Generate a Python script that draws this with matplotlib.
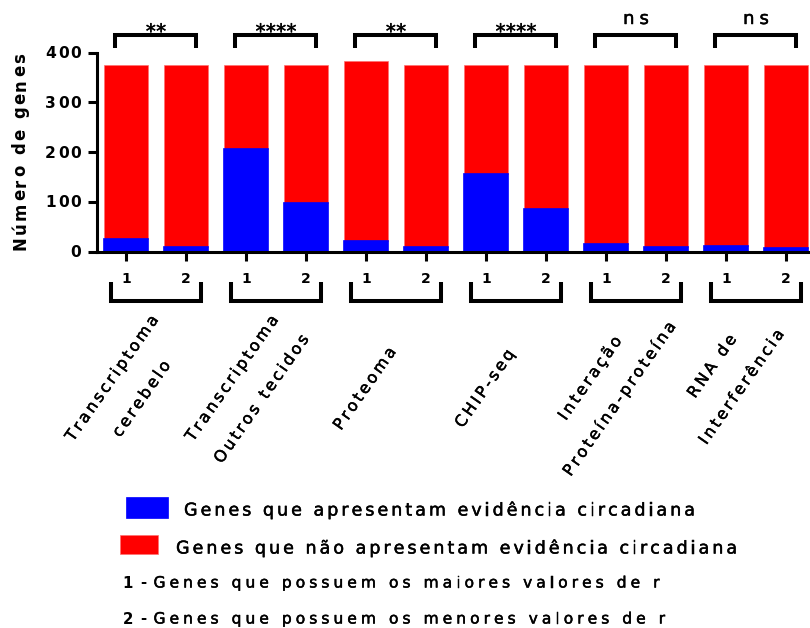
import numpy as np
import matplotlib
matplotlib.use("Agg")
import matplotlib.pyplot as plt
import matplotlib.patheffects as pe
from matplotlib.font_manager import FontProperties, findfont, get_font
from matplotlib.patches import Rectangle

# ---------------- data ----------------
categories = [
    ["Transcriptoma", "cerebelo"],
    ["Transcriptoma", "Outros tecidos"],
    ["Proteoma"],
    ["CHIP-seq"],
    ["Interação", "Proteína-proteína"],
    ["RNA de", "Interferência"],
]
subgroups = ["1", "2"]
circadian = [26, 10, 206, 97, 22, 10, 156, 86, 15, 10, 11, 7]
non_circadian = [348, 364, 168, 277, 361, 364, 218, 288, 359, 364, 363, 367]
significance = ["**", "****", "**", "****", "ns", "ns"]
yticks = [0, 100, 200, 300, 400]
ylabel = "Número de genes"
legend_items = ["Genes que apresentam evidência circadiana",
                "Genes que não apresentam evidência circadiana"]
notes = [("1 -", "Genes que possuem os maiores valores de r"),
         ("2 -", "Genes que possuem os menores valores de r")]

BLUE = "#0000FF"
RED = "#FF0000"
FAMILY = "DejaVu Sans"

# ---------------- figure ----------------
W, H, DPI = 810, 628, 100
fig = plt.figure(figsize=(W / DPI, H / DPI), dpi=DPI)
ax = fig.add_axes([97 / W, 1 - 251.5 / H, (W - 97) / W, (251.5 - 52.5) / H])

n_bars = len(circadian)
x = np.arange(n_bars)
ax.bar(x, non_circadian, bottom=circadian, width=0.74, color=RED,
       edgecolor="#FF7070", linewidth=0.5, zorder=2)
ax.bar(x, circadian, width=0.74, color=BLUE, edgecolor=BLUE,
       linewidth=1.2, zorder=3)

ax.set_xlim(-0.4833, 11.4)
ax.set_ylim(0, 400)
for side in ("top", "right"):
    ax.spines[side].set_visible(False)
for side in ("left", "bottom"):
    ax.spines[side].set_linewidth(2.2)
    ax.spines[side].set_zorder(4)
ax.spines["left"].set_bounds(0, 400)
ax.set_yticks(yticks)
ax.set_xticks(x)
ax.tick_params(axis="both", length=6.5, width=2.2, direction="out",
               labelleft=False, labelbottom=False)


def to_px(xd, yd):
    dx, dy = ax.transData.transform((xd, yd))
    return dx, H - dy


def fig_xy(px, py):
    return px / W, 1 - py / H


def advances(s, size_px, weight):
    font = get_font(findfont(FontProperties(family=FAMILY, weight=weight)))
    font.set_size(size_px * 72 / DPI, DPI)
    return [font.load_char(ord(c)).linearHoriAdvance / 65536 for c in s]


SOFT = [pe.withStroke(linewidth=0.35, foreground="black")]


def tracked(s, px, py, size_px, track=0.0, span=None, angle=0.0,
            ha="left", weight="normal", color="black"):
    """Draw letter-spaced text along a baseline; (px, py) in pixels from top-left."""
    adv = advances(s, size_px, weight)
    natural = sum(adv)
    if span is not None and len(s) > 1:
        track = (span - natural) / (len(s) - 1)
    total = natural + track * (len(s) - 1)
    a = np.radians(angle)
    d = np.array([np.cos(a), -np.sin(a)])
    shift = {"left": 0.0, "center": total / 2, "right": total}[ha]
    pos = np.array([px, py], dtype=float) - d * shift
    fp = FontProperties(family=FAMILY, weight=weight, size=size_px * 72 / DPI)
    effects = SOFT if weight == "normal" else None
    for ch, w in zip(s, adv):
        if not ch.isspace():
            fig.text(*fig_xy(*pos), ch, fontproperties=fp, color=color,
                     rotation=angle, rotation_mode="anchor",
                     ha="left", va="baseline", transform=fig.transFigure,
                     path_effects=effects)
        pos = pos + d * (w + track)
    return track


# y tick labels and axis title
for v in yticks:
    _, py = to_px(0, v)
    tracked(str(v), 81.5, py + 5.6, 15.5, track=2.0, ha="right", weight="bold")
tracked(ylabel, 25.5, 250, 16.5, span=197, angle=90, weight="bold")

# subgroup numbers under each bar
fp_num = FontProperties(family=FAMILY, weight="bold", size=14 * 72 / DPI)
for i in x:
    px, _ = to_px(i, 0)
    fig.text(*fig_xy(px, 283), subgroups[i % 2], fontproperties=fp_num,
             ha="center", va="baseline", transform=fig.transFigure)

LW = 2.9
n_groups = len(categories)
label_nudge = [(2, 0), (2, 0), (0, 0), (0, 0), (0, 0), (2, -12)]
for g in range(n_groups):
    gc = 2 * g + 0.5
    # significance bracket above each pair
    ax.plot([gc - 0.675, gc - 0.675, gc + 0.675, gc + 0.675],
            [410, 436, 436, 410], color="black", lw=LW,
            solid_joinstyle="miter", solid_capstyle="butt", clip_on=False)
    gpx, _ = to_px(gc, 0)
    label = significance[g]
    if label == "ns":
        tracked(label, gpx, 24, 18, track=5.0, ha="center")
    else:
        tracked(label, gpx, 38, 20, track=0.3, ha="center")
    # grouping bracket below the numbers
    ax.plot([gc - 0.75, gc - 0.75, gc + 0.75, gc + 0.75],
            [-62, -100, -100, -62], color="black", lw=LW,
            solid_joinstyle="miter", solid_capstyle="butt", clip_on=False)

    # rotated category name, one or two lines
    lines = categories[g]
    ang = 55.0
    a = np.radians(ang)
    nrm = np.array([np.sin(a), np.cos(a)])
    centre = np.array([gpx - 32 + label_nudge[g][0], 388.0 + label_nudge[g][1]])
    size = 16
    spacing = 36
    m = len(lines)
    for k, line in enumerate(lines):
        base = centre + nrm * ((k - (m - 1) / 2) * spacing + 0.36 * size)
        tracked(line, base[0], base[1], size, track=2.8, angle=ang, ha="center")

# legend
fig.add_artist(Rectangle(fig_xy(126, 518), 42 / W, 21 / H, transform=fig.transFigure,
                         facecolor=BLUE, edgecolor=BLUE, lw=0.5))
fig.add_artist(Rectangle(fig_xy(120, 553.5), 38 / W, 18.5 / H, transform=fig.transFigure,
                         facecolor=RED, edgecolor="#FF7070", lw=0.5))
t_leg = tracked(legend_items[0], 184, 515.5, 17.5, span=511)
tracked(legend_items[1], 176, 553.5, 17.5, track=t_leg)

t_note = None
for (num, txt), base in zip(notes, (587.5, 623.5)):
    tracked(num, 122.5, base, 15, track=1.0, weight="bold")
    if t_note is None:
        t_note = tracked(txt, 153.5, base, 15.5, span=506)
    else:
        tracked(txt, 153.5, base, 15.5, track=t_note)

fig.savefig("out.png", dpi=DPI)
